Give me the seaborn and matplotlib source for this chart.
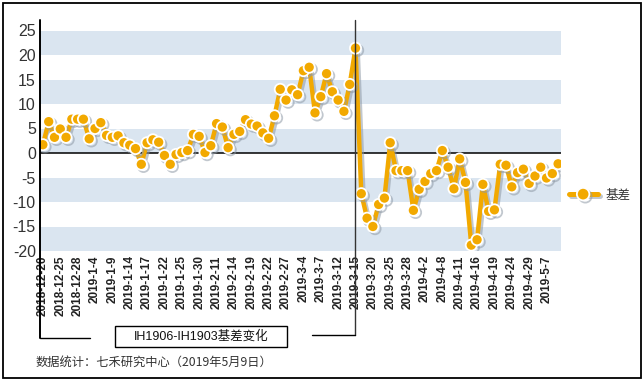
import numpy as np
import pandas as pd
import matplotlib
matplotlib.use("Agg")
import matplotlib.pyplot as plt
import matplotlib.patheffects as pe
from matplotlib.lines import Line2D
from matplotlib.patches import Rectangle
import matplotlib.transforms as mtrans
import seaborn as sns

# ---------------- data ----------------
tick_labels = ["2018-12-20", "2018-12-25", "2018-12-28", "2019-1-4", "2019-1-9",
               "2019-1-14", "2019-1-17", "2019-1-22", "2019-1-25", "2019-1-30",
               "2019-2-11", "2019-2-14", "2019-2-19", "2019-2-22", "2019-2-27",
               "2019-3-4", "2019-3-7", "2019-3-12", "2019-3-15", "2019-3-20",
               "2019-3-25", "2019-3-28", "2019-4-2", "2019-4-8", "2019-4-11",
               "2019-4-16", "2019-4-19", "2019-4-24", "2019-4-29", "2019-5-7"]
tick_step = 3

basis = [1.7, 6.4, 3.2, 4.9, 3.2, 6.9, 6.9, 6.9, 2.9, 5.0,
         6.2, 3.6, 3.2, 3.5, 2.1, 1.6, 0.9, -2.3, 2.1, 2.7,
         2.2, -0.5, -2.3, -0.3, 0.1, 0.5, 3.8, 3.4, 0.1, 1.5,
         6.0, 5.3, 1.1, 3.8, 4.4, 6.8, 5.9, 5.5, 4.1, 3.0,
         7.6, 13.0, 10.8, 12.9, 11.9, 16.8, 17.5, 8.2, 11.5, 16.2,
         12.5, 10.8, 8.5, 14.0, 21.4, -8.3, -13.3, -15.0, -10.5, -9.2,
         2.1, -3.6, -3.6, -3.6, -11.7, -7.4, -5.8, -4.2, -3.6, 0.5,
         -2.9, -7.3, -1.2, -6.0, -18.8, -17.7, -6.4, -11.9, -11.6, -2.3,
         -2.5, -6.9, -4.0, -3.3, -6.2, -4.7, -2.9, -5.1, -4.2, -2.2]
series_name = "基差"
y_ticks = [25, 20, 15, 10, 5, 0, -5, -10, -15, -20]
band_ranges = [(20, 25), (10, 15), (0, 5), (-10, -5), (-20, -15)]
split_index = 54  # 2019-3-15
title_text = "IH1906-IH1903基差变化"
source_text = "数据统计：七禾研究中心（2019年5月9日）"

df = pd.DataFrame({"idx": np.arange(len(basis)), "basis": basis})

# ---------------- style ----------------
sns.set_theme(style="white")
plt.rcParams["font.family"] = ["Liberation Sans", "Noto Sans CJK SC", "DejaVu Sans"]

W, H = 644, 383
fig = plt.figure(figsize=(W / 100, H / 100), dpi=100)

def fx(px):
    return px / W

def fy(py):
    return 1 - py / H

ax_l, ax_r, ax_t, ax_b = 40, 561, 30.5, 251
ax = fig.add_axes([fx(ax_l), fy(ax_b), (ax_r - ax_l) / W, (ax_b - ax_t) / H])

orange = "#F2A900"
band_col = "#DAE5F0"
shadow = [pe.SimpleLineShadow(offset=(1.6, -1.6), shadow_color="#8f9aa6", alpha=0.55), pe.Normal()]

for lo, hi in band_ranges:
    ax.axhspan(lo, hi, color=band_col, lw=0, zorder=0)
ax.axhline(0, color="black", lw=1.1, zorder=1)

sns.lineplot(data=df, x="idx", y="basis", ax=ax, color=orange, lw=3.2,
             marker="o", markersize=8, markerfacecolor=orange,
             markeredgecolor="white", markeredgewidth=1.3, zorder=3,
             legend=False)
ax.lines[-1].set_path_effects(shadow)

ax.set_xlim(-0.5, len(basis) - 0.5)
ax.set_ylim(-20, 25)
ax.set_yticks(y_ticks)
ax.set_yticklabels([str(v) for v in y_ticks])
ax.set_xticks(np.arange(0, len(basis), tick_step)[:len(tick_labels)])
ax.set_xticklabels(tick_labels, rotation=90, fontsize=8.5, fontweight="bold", color="#222222")
ax.tick_params(axis="y", length=0, pad=3, labelsize=11.5, labelcolor="#333333")
ax.tick_params(axis="x", length=0, pad=3)
for lab in ax.get_xticklabels():
    lab.set_va("top")
ax.set_xlabel("")
ax.set_ylabel("")
for s in ax.spines.values():
    s.set_visible(False)
ax.grid(False)

# left vertical axis line extending down as bracket
fig.add_artist(Line2D([fx(40), fx(40)], [fy(20), fy(338)], color="black", lw=1.4))
fig.add_artist(Line2D([fx(40), fx(90)], [fy(338), fy(338)], color="black", lw=1.0))
# vertical split line at 2019-3-15
blend = mtrans.blended_transform_factory(ax.transData, fig.transFigure)
split_line = Line2D([split_index, split_index], [fy(20), fy(335)], color="#333333", lw=1.0,
                    transform=blend, zorder=2)
fig.add_artist(split_line)
x_split_fig = fig.transFigure.inverted().transform(ax.transData.transform((split_index, 0)))[0]
fig.add_artist(Line2D([fx(312), x_split_fig], [fy(335), fy(335)], color="black", lw=1.0))

# title box
fig.add_artist(Rectangle((fx(115), fy(347)), (287 - 115) / W, (347 - 326) / H,
                         transform=fig.transFigure, fc="white", ec="black", lw=1.0))
fig.text(fx(201), fy(336.5), title_text, ha="center", va="center", fontsize=9, color="#111111")

# source
fig.text(fx(36), fy(362), source_text, ha="left", va="center", fontsize=8.8, color="#333333",
         family=["Noto Sans CJK SC", "DejaVu Sans"])

# legend
handle = Line2D([0], [0], color=orange, lw=3.6, marker="o", markersize=9,
                markerfacecolor=orange, markeredgecolor="white", markeredgewidth=1.3,
                path_effects=shadow)
leg = ax.legend(handles=[handle], labels=[series_name], loc="center left",
                bbox_to_anchor=(fx(565), fy(195)), bbox_transform=fig.transFigure,
                frameon=False, fontsize=9, handlelength=2.3, handletextpad=0.6,
                borderaxespad=0, borderpad=0.3)
for t in leg.get_texts():
    t.set_color("#333333")
    t.set_family(["Noto Sans CJK SC", "DejaVu Sans"])

# outer border
fig.add_artist(Rectangle((fx(2.5), fy(378)), (641 - 2.5) / W, (378 - 3) / H,
                         transform=fig.transFigure, fill=False, ec="black", lw=1.3))

fig.savefig("out.png", dpi=100)
